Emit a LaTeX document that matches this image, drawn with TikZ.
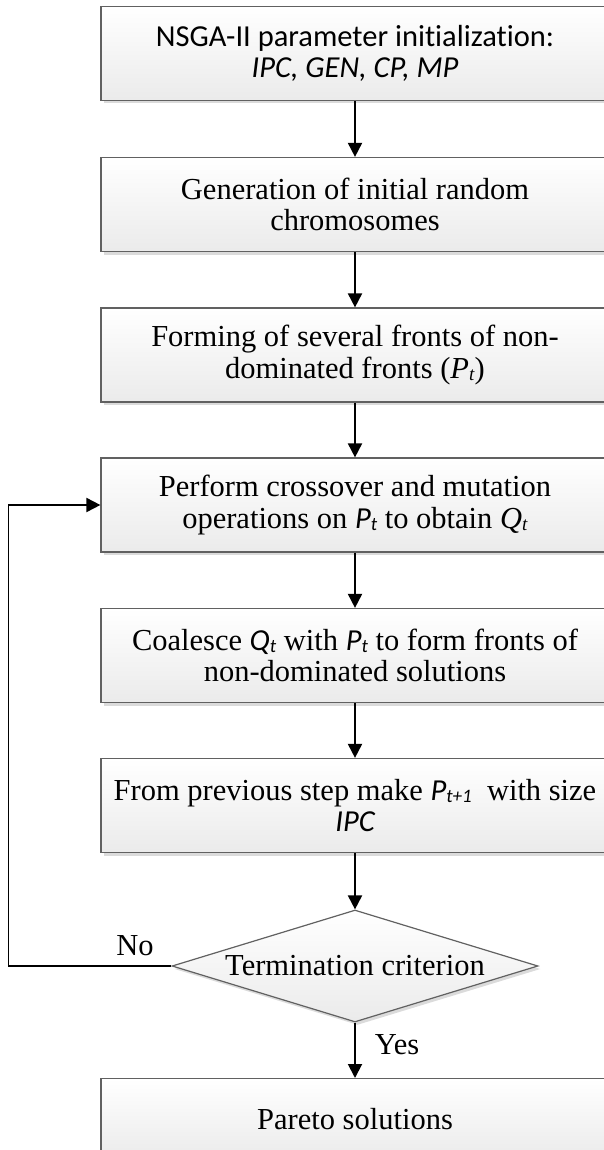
\documentclass[tikz,border=0pt]{standalone}
\usepackage{fontspec}
\setmainfont{Liberation Serif}
\newfontfamily\calf[Ligatures={NoCommon,NoContextual}]{Carlito}
\usetikzlibrary{arrows.meta,shapes.geometric,shadows}
\newcommand\lowsub[1]{\raisebox{-0.08em}{\fontsize{19}{19}\selectfont #1}}
\begin{document}
\begin{tikzpicture}[x=1pt,y=-1pt,
  every node/.style={font=\fontsize{30.5}{31.5}\selectfont},
  boxstyle/.style={rectangle, draw=black!62, line width=1.2pt, inner sep=0pt,
    minimum width=508pt, minimum height=94pt, align=center,
    top color=white, bottom color=black!8,
    drop shadow={shadow xshift=2.5pt, shadow yshift=-3pt, fill=black!14, opacity=1}},
  decstyle/.style={diamond, draw=black!62, line width=1.2pt, inner sep=0pt,
    aspect=3.27, minimum width=366pt, minimum height=112pt,
    top color=white, bottom color=black!8,
    drop shadow={shadow xshift=2.5pt, shadow yshift=-3pt, fill=black!14, opacity=1}},
  txt/.style={inner sep=0pt, align=center},
  flow/.style={line width=1.9pt, -{Triangle[length=14pt,width=14pt]}}]
\clip (0,0) rectangle (604,1150);
\fill[white] (0,0) rectangle (604,1150);
\node[boxstyle] (b1) at (355,53.5) {{\calf NSGA-II parameter initialization:}\\{\calf\itshape IPC, GEN, CP, MP}};
\node[boxstyle] (b2) at (355,204.5) {Generation of initial random\\chromosomes};
\node[boxstyle] (b3) at (355,355) {Forming of several fronts of non-\\dominated fronts (\textit{P}\lowsub{\textit{t}})};
\node[boxstyle] (b4) at (355,505) {Perform crossover and mutation\\operations on {\calf\itshape P\lowsub{t}} to obtain \textit{Q}\lowsub{\textit{t}}};
\node[boxstyle] (b5) at (355,655.5) {Coalesce {\calf\itshape Q\lowsub{t}} with {\calf\itshape P\lowsub{t}} to form fronts of\\non-dominated solutions};
\node[boxstyle] (b6) at (355,805.5) {From previous step make {\calf\itshape P\lowsub{t+1}}\ \ with size\\{\calf\itshape IPC}};
\node[decstyle] (dia) at (355,966) {};
\node[txt] (diatext) at (355,966) {Termination criterion};
\node[boxstyle, minimum height=80pt, anchor=north] (b7) at (355,1078) {Pareto solutions};
\coordinate (fb) at (8.5,966);
\draw[flow] (b1) -- (b2);
\draw[flow] (b2) -- (b3);
\draw[flow] (b3) -- (b4);
\draw[flow] (b4) -- (b5);
\draw[flow] (b5) -- (b6);
\draw[flow] (b6) -- (dia);
\draw[flow] (dia) -- (b7);
\draw[flow] (dia.west) -- (fb) |- (b4.west);
\node[txt] (no) at (135,946) {No};
\node[txt] (yes) at (397,1045) {Yes};
\end{tikzpicture}
\end{document}
